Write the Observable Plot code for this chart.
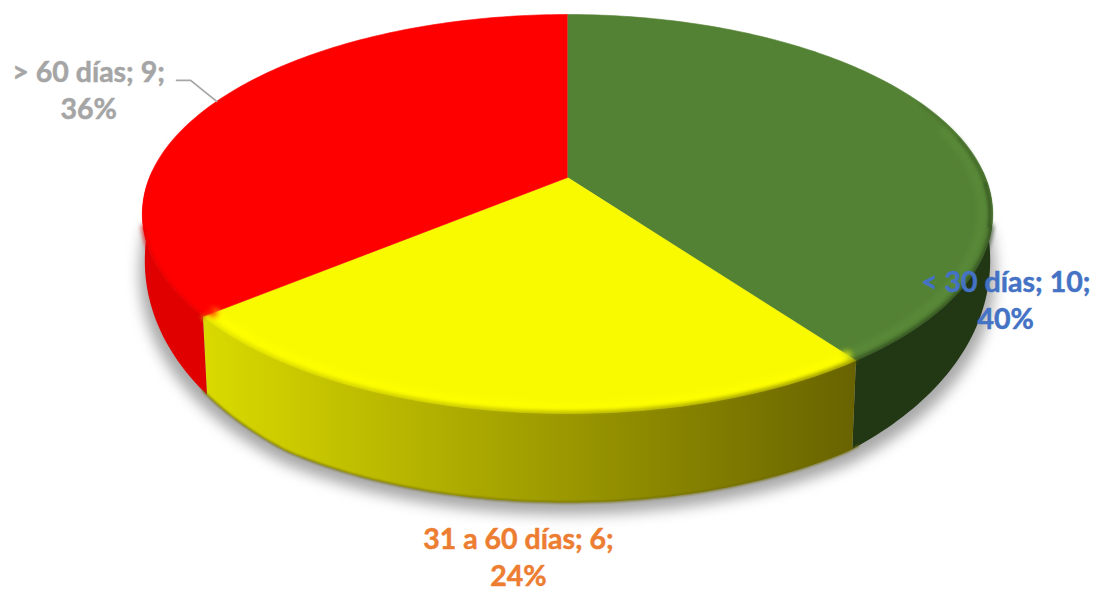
<!DOCTYPE html>
<html><head><meta charset="utf-8">
<script src="https://cdn.jsdelivr.net/npm/d3@7"></script>
<script src="https://cdn.jsdelivr.net/npm/@observablehq/plot@0.6"></script>
<style>html,body{margin:0;padding:0;background:#fff;overflow:hidden}svg{display:block}</style>
</head><body><div id="chart"></div>
<script>
const categories = ["< 30 días", "31 a 60 días", "> 60 días"];
const counts = [10, 6, 9];
const shares = ["40%", "24%", "36%"];
const topColors = ["#548235", "#F9F900", "#FF0000"];
const rimColors = ["#5A8B39", "#FFFF00", "#FF0000"];
const wallStops = [["#223815", "#223815"], ["#DADA00", "#686300"], ["#E00000", "#E00000"]];
const labelColors = ["#4472C4", "#ED7D31", "#A5A5A5"];

// Layout of the tilted disc
const W = 1096, H = 591;
const rad = Math.PI / 180;
const cx = 567, cy = 177, a = 418, b = 192.8, k = 0.183;
const upper = (deg, r = 1) => {
  const u = Math.sin(deg * rad) * r, v = Math.cos(deg * rad) * r, d = 1 + k * v;
  return {x: cx + a * u / d, y: cy - b * v / d};
};
const low = (deg) => {
  const p = upper(deg), front = Math.abs(Math.cos(deg * rad));
  return {x: cx + (1 - 0.014 * Math.sqrt(front)) * (p.x - cx), y: p.y + Math.min(89, 40 + 60 * front)};
};
const arc = (f, from, to) => d3.range(from, to, 1).concat(to).map((t) => f(t));

const total = d3.sum(counts);
const ends = Array.from(d3.cumsum(counts)).map((c) => c / total * 360);
const slices = categories.map((name, i) => ({
  i, name, from: i ? ends[i - 1] : 0, to: ends[i], mid: ((i ? ends[i - 1] : 0) + ends[i]) / 2
}));

// The part of each slice's outer wall that faces the viewer
const wallFrom = [88, ends[0], ends[1]];
const wallTo = [ends[0], ends[1], 272];
const walls = slices.map((s, i) =>
  arc(upper, wallFrom[i], wallTo[i]).concat(arc(low, wallFrom[i], wallTo[i]).reverse()));
const faces = slices.map((s) => [{x: cx, y: cy}].concat(arc(upper, s.from, s.to)));
const shadow = arc(low, 88, 272).map((p) => ({x: cx + (p.x - cx) * 1.012, y: p.y + 12}));

const defs = () => {
  const d = d3.create("svg:defs");
  wallStops.forEach((stops, i) => {
    const g = d.append("linearGradient").attr("id", `wall${i}`);
    stops.forEach((c, j) => g.append("stop").attr("offset", j).attr("stop-color", c));
  });
  return d.node();
};

const xy = {x: "x", y: "y"};
const labelShift = [[62, 178], [15, 144], [-128, -13]];
const labels = slices.map((s, i) => {
  const p = upper(s.mid);
  return {x: p.x + labelShift[i][0], y: p.y + labelShift[i][1],
    text: `${s.name}; ${counts[i]};\n${shares[i]}`, color: labelColors[i]};
});
const redRim = upper(slices[2].mid);
const leader = [redRim, {x: redRim.x - 26, y: redRim.y - 21}, {x: redRim.x - 40, y: redRim.y - 21}];

const edgeFrom = [104, ends[0], ends[1]];
const edgeTo = [ends[0], ends[1], 256];
// The dark edge of the green slice fades out towards the back of the disc
const edgeFade = [[66, 78, 0.2], [78, 92, 0.4], [92, 104, 0.7]];

const marks = [
  defs,
  Plot.line(shadow, {...xy, fill: "#a8a8a8", stroke: "none", imageFilter: "blur(7px)"}),
  ...walls.map((w, i) => Plot.line(w, {...xy, fill: `url(#wall${i})`, stroke: "none"})),
  Plot.line(arc(low, ends[0] - 1, ends[1] + 1), {...xy, stroke: "#6f6a00", strokeWidth: 1.5, imageFilter: "blur(1px)"}),
  ...faces.map((f, i) => Plot.line(f, {...xy, fill: topColors[i], stroke: topColors[i], strokeWidth: 0.6})),
  ...slices.map((s, i) => Plot.line(arc((t) => upper(t, 0.975), Math.max(s.from, 75), Math.min(s.to, 285)),
    {...xy, stroke: rimColors[i], strokeWidth: 7, imageFilter: "blur(3px)"})),
  ...edgeFade.map(([from, to, o]) => Plot.line(arc((t) => upper(t, 0.994), from, to),
    {...xy, stroke: wallStops[0][0], strokeOpacity: o, strokeWidth: 2.5, imageFilter: "blur(1.5px)"})),
  ...slices.map((s, i) => Plot.line(arc(upper, edgeFrom[i], edgeTo[i]),
    {...xy, stroke: `url(#wall${i})`, strokeWidth: 3, imageFilter: "blur(2px)"})),
  Plot.line(leader, {...xy, stroke: "#A6A6A6", strokeWidth: 1.8}),
  Plot.text(labels, {...xy, text: "text", fill: "color", stroke: "color", strokeWidth: 0.5, fontFamily: "Lato", fontWeight: 700, fontSize: 28.5, lineHeight: 1.3, textAnchor: "middle", lineAnchor: "middle"})
];

const chart = Plot.plot({
  width: W, height: H, margin: 0,
  x: {domain: [0, W], range: [0, W], axis: null},
  y: {domain: [0, H], range: [0, H], axis: null},
  marks
});
document.getElementById("chart").append(chart);
</script></body></html>
